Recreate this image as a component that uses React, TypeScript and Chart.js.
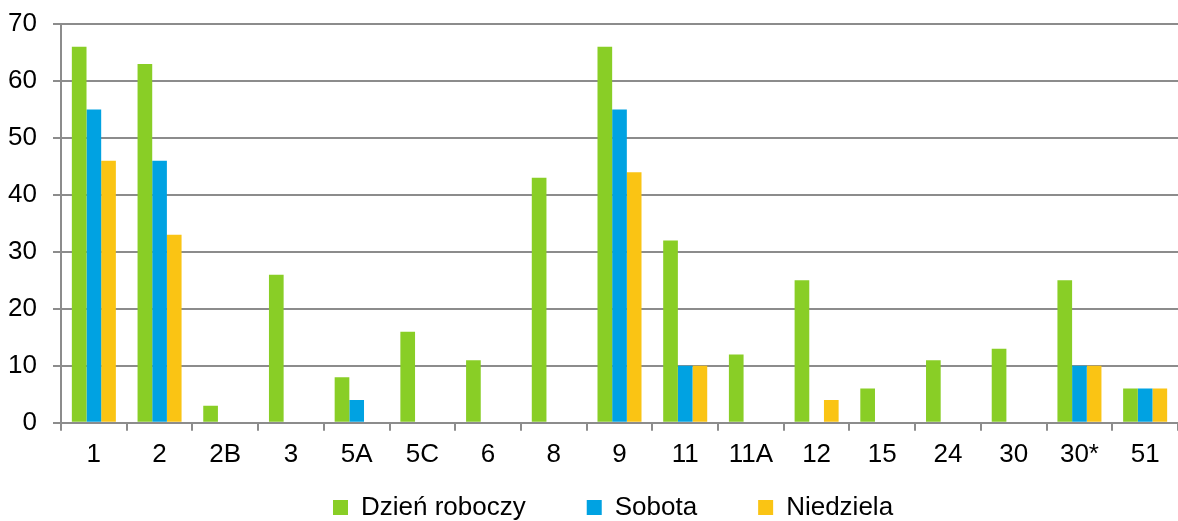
import React, { useEffect, useRef } from "react";
import { Chart, registerables } from "chart.js";

Chart.register(...registerables);

const categories = ["1", "2", "2B", "3", "5A", "5C", "6", "8", "9", "11", "11A", "12", "15", "24", "30", "30*", "51"];
const weekday = [66, 63, 3, 26, 8, 16, 11, 43, 66, 32, 12, 25, 6, 11, 13, 25, 6];
const saturday = [55, 46, 0, 0, 4, 0, 0, 0, 55, 10, 0, 0, 0, 0, 0, 10, 6];
const sunday = [46, 33, 0, 0, 0, 0, 0, 0, 44, 10, 0, 4, 0, 0, 0, 10, 6];
const seriesNames = ["Dzień roboczy", "Sobota", "Niedziela"];
const seriesColors = ["#89CE26", "#00A2E2", "#FAC414"];
const yTicks = [0, 10, 20, 30, 40, 50, 60, 70];

const GRID = "#8c8c8c";
const FONT = "'Liberation Sans', Arial, sans-serif";
const FS = 26;
const LEGEND_H = 35;

export default function App() {
  const ref = useRef<HTMLCanvasElement | null>(null);
  useEffect(() => {
    if (!ref.current) return;
    const legendShift = {
      id: "legendShift",
      beforeLayout(chart: any) {
        const lg = chart.legend;
        if (lg && !lg._fitWrapped) {
          const orig = lg.fit.bind(lg);
          lg.fit = () => {
            orig();
            lg.height = LEGEND_H;
          };
          lg._fitWrapped = true;
        }
      },
      afterLayout(chart: any) {
        const lg = chart.legend;
        if (!lg) return;
        lg.left = 272;
        lg.right = 1178;
        lg.top = 433.5;
        lg.bottom = 521;
        lg.height = 521 - 433.5;
      },
    };
    const chart = new Chart(ref.current, {
      type: "bar",
      data: {
        labels: categories,
        datasets: [weekday, saturday, sunday].map((d, i) => ({
          label: seriesNames[i],
          data: d,
          backgroundColor: seriesColors[i],
          borderWidth: 0,
          categoryPercentage: 0.67,
          barPercentage: 1,
        })),
      },
      options: {
        animation: false,
        responsive: false,
        devicePixelRatio: 1,
        layout: { padding: { top: 24, left: 0, right: 0, bottom: 8 } },
        font: { family: FONT },
        plugins: {
          tooltip: { enabled: false },
          legend: {
            position: "bottom",
            align: "start",
            labels: {
              boxWidth: 15,
              boxHeight: 15,
              padding: 61,
              color: "#000",
              font: { family: FONT, size: FS },
            },
          },
        },
        scales: {
          x: {
            offset: true,
            grid: {
              offset: true,
              drawOnChartArea: false,
              drawTicks: true,
              tickLength: 8,
              color: GRID,
              lineWidth: 2,
            },
            border: { display: true, color: GRID, width: 2 },
            ticks: { color: "#000", padding: 8, font: { family: FONT, size: FS }, maxRotation: 0, minRotation: 0, autoSkip: false },
          },
          y: {
            min: 0,
            max: 70,
            afterBuildTicks(scale: any) {
              scale.ticks = yTicks.map((v) => ({ value: v }));
            },
            grid: { color: GRID, lineWidth: 2, tickLength: 8, drawTicks: true },
            border: { display: true, color: GRID, width: 2 },
            ticks: { color: "#000", padding: 16, font: { family: FONT, size: FS, lineHeight: 0.6 } },
            afterFit(scale: any) {
              scale.width = 61;
            },
          },
        },
      },
      plugins: [legendShift],
    } as any);
    return () => chart.destroy();
  }, []);
  return (
    <div style={{ position: "absolute", left: 0, top: 0, width: 1178, height: 521, background: "#fff" }}>
      <canvas ref={ref} width={1178} height={521} style={{ display: "block" }} />
    </div>
  );
}
